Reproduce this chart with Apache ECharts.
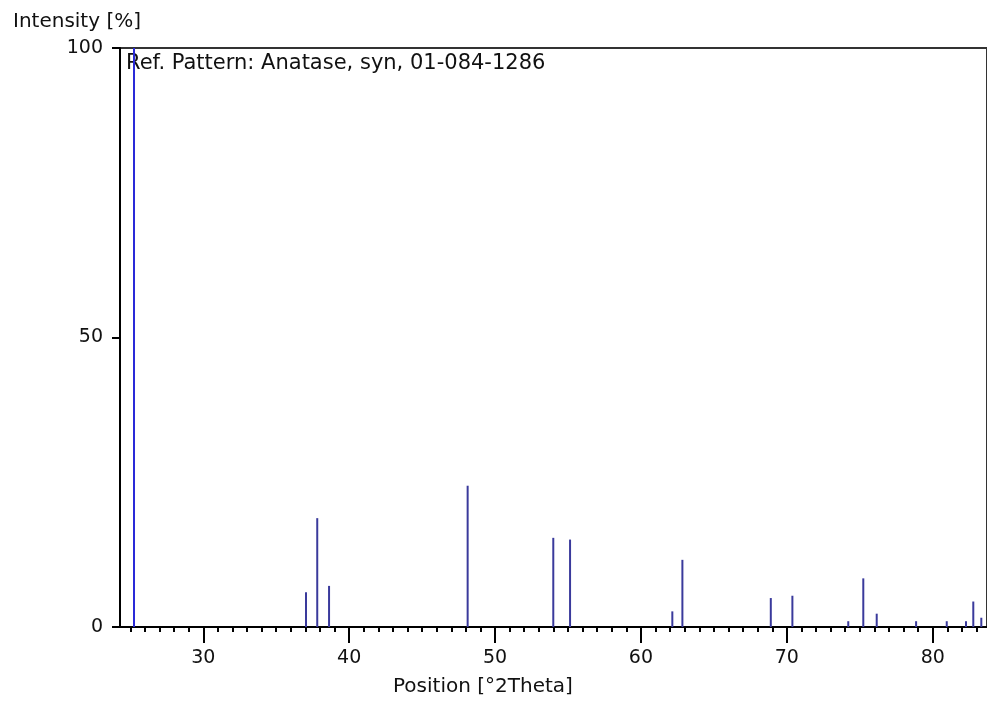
<!DOCTYPE html>
<html>
<head>
<meta charset="utf-8">
<script src="https://cdn.jsdelivr.net/npm/echarts@6/dist/echarts.min.js"></script>
<style>
html,body{margin:0;padding:0;background:#fff;}
#chart{width:987px;height:704px;}
</style>
</head>
<body>
<div id="chart"></div>
<script>
// Peak positions [°2Theta] and relative intensities [%]
const positions = [25.25, 37.04, 37.81, 38.62, 48.12, 53.99, 55.14, 62.15, 62.84, 68.90, 70.38, 74.21, 75.24, 76.16, 78.86, 80.96, 82.28, 82.78, 83.33];
const intensities = [100, 6.0, 18.8, 7.1, 24.4, 15.4, 15.1, 2.7, 11.6, 5.0, 5.4, 1.0, 8.4, 2.3, 1.0, 1.0, 1.0, 4.4, 1.6];
const xMajorTicks = [30, 40, 50, 60, 70, 80];
const xMinorTicks = [25,26,27,28,29,30,31,32,33,34,35,36,37,38,39,40,41,42,43,44,45,46,47,48,49,50,51,52,53,54,55,56,57,58,59,60,61,62,63,64,65,66,67,68,69,70,71,72,73,74,75,76,77,78,79,80,81,82,83];
const yTicks = [0, 50, 100];
const titleText = 'Ref. Pattern: Anatase, syn, 01-084-1286';
const xName = 'Position [°2Theta]';
const yName = 'Intensity [%]';

const FONT = 'DejaVu Sans';
const chart = echarts.init(document.getElementById('chart'));
const data = positions.map((p, i) => ({
  value: [p, intensities[i]],
  itemStyle: { color: i === 0 ? '#2a2ad8' : '#3a3a9c' }
}));

chart.setOption({
  animation: false,
  backgroundColor: '#fff',
  grid: { left: 120, top: 48, right: 0, bottom: 77, show: true, borderColor: '#333', borderWidth: 2, backgroundColor: 'transparent' },
  xAxis: [{
    type: 'value', min: 24.29, max: 83.72,
    axisLine: { show: true, onZero: false, lineStyle: { color: '#000', width: 2 } },
    axisTick: { show: true, inside: false, length: 16, customValues: xMajorTicks, lineStyle: { color: '#000', width: 2 } },
    axisLabel: { show: true, customValues: xMajorTicks, margin: 22, fontFamily: FONT, fontSize: 19, color: '#111' },
    splitLine: { show: false }
  }, {
    type: 'value', min: 24.29, max: 83.72, position: 'bottom',
    axisLine: { show: false },
    axisTick: { show: true, inside: false, length: 5, customValues: xMinorTicks, lineStyle: { color: '#000', width: 2 } },
    axisLabel: { show: false },
    splitLine: { show: false }
  }],
  yAxis: {
    type: 'value', min: 0, max: 100, interval: 50,
    axisLine: { show: true, lineStyle: { color: '#000', width: 2 } },
    axisTick: { show: true, inside: false, length: 8, lineStyle: { color: '#000', width: 2 } },
    axisLabel: { margin: 17, fontFamily: FONT, fontSize: 19, color: '#111' },
    splitLine: { show: false }
  },
  graphic: [
    { type: 'text', left: 13, top: 12, style: { text: yName, font: '20px "DejaVu Sans"', fill: '#111' } },
    { type: 'text', left: 126, top: 53, style: { text: titleText, font: '21px "DejaVu Sans"', fill: '#111' } },
    { type: 'text', left: 393, top: 677, style: { text: xName, font: '20px "DejaVu Sans"', fill: '#111' } }
  ],
  series: [{
    type: 'bar', xAxisIndex: 0, yAxisIndex: 0,
    barWidth: 2, data: data
  }]
});
</script>
</body>
</html>
